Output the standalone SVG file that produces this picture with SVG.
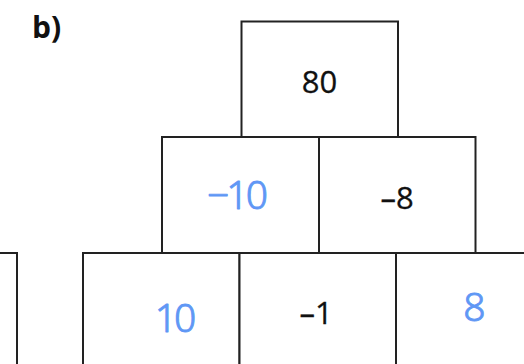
<svg xmlns="http://www.w3.org/2000/svg" width="524" height="364" viewBox="0 0 524 364">
<style>
.box{fill:#fff;stroke:#222;stroke-width:2}
.t{font-family:"Open Sans","DejaVu Sans",sans-serif;font-size:31px;fill:#111;stroke:#111;stroke-width:0.3;text-anchor:middle}
.h{font-family:"Noto Sans","DejaVu Sans",sans-serif;font-size:39px;fill:#5f97f5;stroke:#5f97f5;stroke-width:0.9;stroke-linejoin:round;text-anchor:middle;font-weight:300;letter-spacing:-3px}
.lbl{font-family:"Open Sans","DejaVu Sans",sans-serif;font-size:30px;font-weight:bold;fill:#111}
</style>
<rect width="524" height="364" fill="#fff"/>
<text class="lbl" x="32" y="38">b)</text>
<g id="left-partial"><polyline class="box" fill="none" points="-2,253 17,253 17,366"/></g>
<g id="n80"><rect class="box" x="241.5" y="21.5" width="156.5" height="115.5"/><text class="t" x="319.5" y="92.5">80</text></g>
<g id="nm10"><rect class="box" x="162" y="137" width="157" height="116"/><text class="h" x="236" y="209">−10</text></g>
<g id="nm8"><rect class="box" x="319" y="137" width="156.5" height="116"/><text class="t" x="397" y="208.5">–8</text></g>
<g id="n10"><rect class="box" x="83" y="253" width="156.5" height="120"/><text class="h" x="174" y="332">10</text></g>
<g id="nm1"><rect class="box" x="239.5" y="253" width="156.5" height="120"/><text class="t" x="316" y="323.5">–1</text></g>
<g id="n8"><rect class="box" x="396" y="253" width="140" height="120"/><text class="h" x="473" y="321">8</text></g>
<g id="connectors"></g>
</svg>
